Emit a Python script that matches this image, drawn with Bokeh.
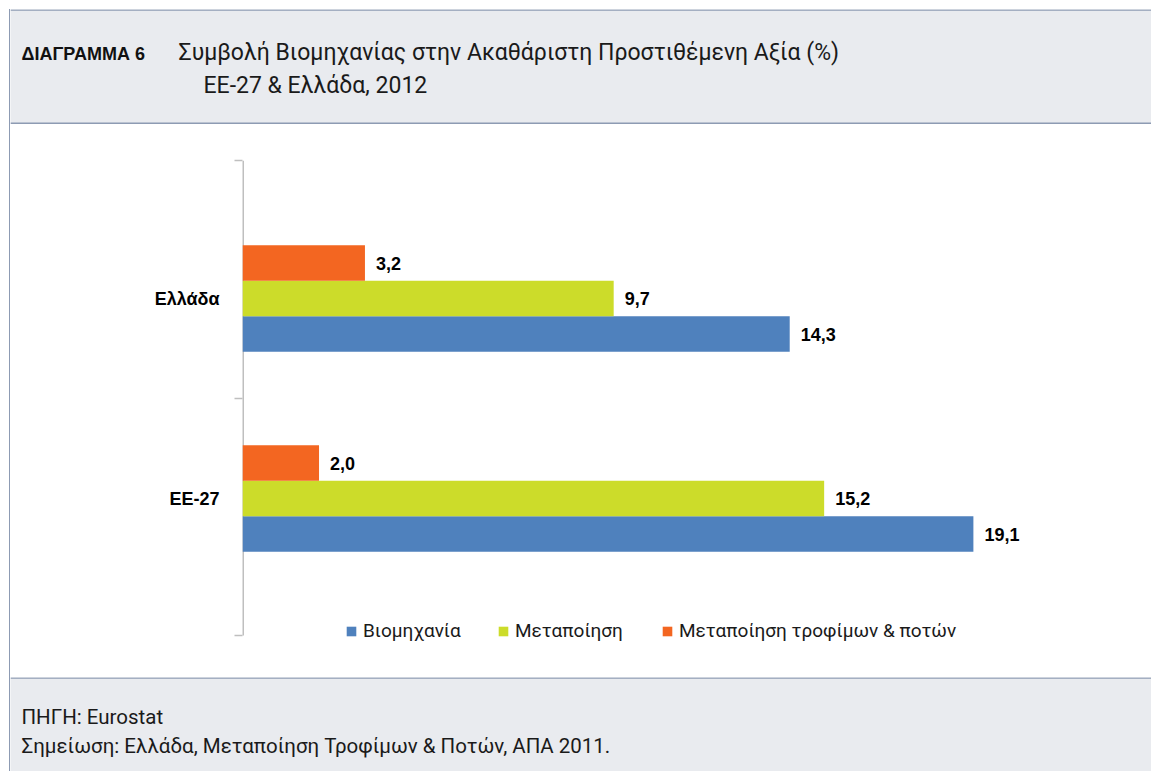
from bokeh.plotting import figure
from bokeh.models import Range1d, Label, Span, FixedTicker, Legend, LegendItem, ColumnDataSource
from bokeh.layouts import column
from bokeh.embed import file_html
from bokeh.resources import INLINE
from bokeh.core.properties import value

# ---- data ----
categories = ["Ελλάδα", "ΕΕ-27"]
series_names = ["Βιομηχανία", "Μεταποίηση", "Μεταποίηση τροφίμων & ποτών"]
industry = [14.3, 19.1]
manufacturing = [9.7, 15.2]
food_beverages = [3.2, 2.0]
series_colors = ["#4F81BD", "#CCDC2A", "#F36621"]

title_tag = "ΔΙΑΓΡΑΜΜΑ 6"
title_line1 = "Συμβολή Βιομηχανίας στην Ακαθάριστη Προστιθέμενη Αξία (%)"
title_line2 = "ΕΕ-27 & Ελλάδα, 2012"
source_text = "ΠΗΓΗ: Eurostat"
note_text = "Σημείωση: Ελλάδα, Μεταποίηση Τροφίμων & Ποτών, ΑΠΑ 2011."

# ---- style ----
W = 1141
HDR = "#E9EBEF"
BRD = "#8D9BB3"
NARROW = "Roboto"
BOLD = "Liberation Sans"
TXT = "#1a1a1a"


def fmt(v):
    return f"{v:.1f}".replace(".", ",")


# ---- header ----
HH = 115
h = figure(width=W, height=HH, x_range=Range1d(0, W), y_range=Range1d(HH, 0),
           min_border=0, toolbar_location=None, output_backend="svg", frame_align=False,
           background_fill_color=HDR, border_fill_color=HDR, outline_line_color=None)
h.axis.visible = False
h.grid.visible = False
h.add_layout(Span(location=0.5, dimension="width", line_color=BRD, line_width=1.5))
h.add_layout(Span(location=114, dimension="width", line_color=BRD, line_width=2))
h.add_layout(Label(x=11, y=44, text=title_tag, text_font=BOLD, text_font_style="bold",
                   text_font_size="18px", text_color="#111111", text_baseline="alphabetic"))
h.add_layout(Label(x=168, y=43, text=title_line1, text_font=NARROW,
                   text_font_size="23px", text_color=TXT, text_baseline="alphabetic"))
h.add_layout(Label(x=193, y=76, text=title_line2, text_font=NARROW,
                   text_font_size="23px", text_color=TXT, text_baseline="alphabetic"))

# ---- chart ----
y_top, y_axis_end, y_bot = 0.31, 2.685, 2.81
p = figure(width=W, height=553, x_range=Range1d(0, 22.5), y_range=Range1d(y_bot, y_top),
           min_border_left=232, min_border_right=48, min_border_top=36, min_border_bottom=17,
           toolbar_location=None, output_backend="svg", outline_line_color=None,
           frame_align=False,
           background_fill_color="white", border_fill_color="white")
p.xaxis.visible = False
p.xgrid.visible = False
p.ygrid.visible = False

# category axis line (drawn as a segment so it stops above the legend row)
p.segment(x0=[0], y0=[y_top], x1=[0], y1=[y_axis_end], line_color="#BFBFBF", line_width=3)

bar_h = 0.1775
offsets = [bar_h, 0.0, -bar_h]
renderers = []
for vals, col, off in zip([industry, manufacturing, food_beverages], series_colors, offsets):
    src = ColumnDataSource(dict(
        y=[i + 1 + off for i in range(len(categories))],
        right=vals,
        label=[fmt(v) for v in vals],
    ))
    r = p.hbar(y="y", left=0, right="right", height=bar_h, source=src,
               fill_color=col, line_color=None)
    renderers.append(r)
    p.text(x="right", y="y", text="label", source=src, x_offset=11,
           text_baseline="middle", text_align="left",
           text_font=value(BOLD), text_font_style="bold",
           text_font_size="18px", text_color="#000000")

p.yaxis.ticker = FixedTicker(ticks=[i + 1 for i in range(len(categories))],
                             minor_ticks=[y_top, (y_top + y_axis_end) / 2, y_axis_end])
p.yaxis.major_label_overrides = {i + 1: c for i, c in enumerate(categories)}
p.yaxis.major_tick_line_color = None
p.yaxis.major_tick_out = 0
p.yaxis.major_tick_in = 0
p.yaxis.major_label_standoff = 15
p.yaxis.major_label_text_font = BOLD
p.yaxis.major_label_text_font_style = "bold"
p.yaxis.major_label_text_font_size = "18px"
p.yaxis.major_label_text_color = "#000000"
p.yaxis.minor_tick_out = 8
p.yaxis.minor_tick_in = 0
p.yaxis.minor_tick_line_color = "#BFBFBF"
p.yaxis.minor_tick_line_width = 1.5
p.yaxis.axis_line_color = None

legend_x = [103, 255, 419]
for name, r, lx in zip(series_names, renderers, legend_x):
    leg = Legend(items=[LegendItem(label=name, renderers=[r])], location=(lx, 18),
                 orientation="horizontal", border_line_color=None, background_fill_alpha=0,
                 padding=0, margin=0, glyph_width=12, glyph_height=12, label_height=20,
                 label_standoff=6, label_text_font=NARROW, label_text_font_size="19px",
                 label_text_color=TXT, spacing=0)
    p.add_layout(leg)

# ---- footer ----
FH = 94
f = figure(width=W, height=FH, x_range=Range1d(0, W), y_range=Range1d(FH, 0),
           min_border=0, toolbar_location=None, output_backend="svg", frame_align=False,
           background_fill_color=HDR, border_fill_color=HDR, outline_line_color=None)
f.axis.visible = False
f.grid.visible = False
f.add_layout(Span(location=0.5, dimension="width", line_color=BRD, line_width=1.5))
f.add_layout(Label(x=11, y=39, text=source_text, text_font=NARROW,
                   text_font_size="20.5px", text_color=TXT, text_baseline="alphabetic"))
f.add_layout(Label(x=11, y=68, text=note_text, text_font=NARROW,
                   text_font_size="20.5px", text_color=TXT, text_baseline="alphabetic"))

layout = column(h, p, f, spacing=0,
                styles={"margin-left": "9px", "margin-top": "9px",
                        "border-left": f"1px solid {BRD}"})

open("out.html", "w").write(file_html(layout, INLINE))
